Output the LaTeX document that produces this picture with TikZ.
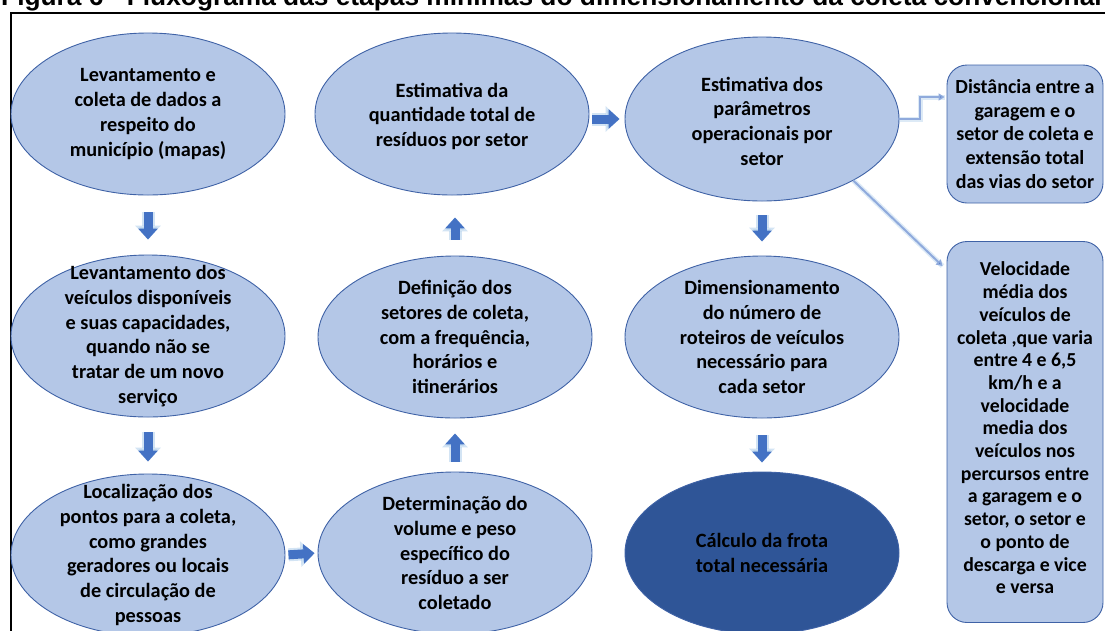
\documentclass[tikz,border=0pt]{standalone}
\usepackage{fontspec}
\setmainfont{Carlito}
\newfontfamily\titlefont{Liberation Sans}
\usetikzlibrary{shapes.geometric,arrows.meta,calc}
\definecolor{fillL}{HTML}{B4C7E7}
\definecolor{edgeC}{HTML}{3F62A6}
\definecolor{fillD}{HTML}{2F5597}
\definecolor{arrC}{HTML}{4472C4}
\definecolor{glowC}{HTML}{9DC3E6}
\definecolor{thinC}{HTML}{8FAADC}
\begin{document}
\begin{tikzpicture}[x=1pt,y=-1pt,
  font=\fontsize{20.3}{24.8}\selectfont\bfseries,
  ell/.style={ellipse, draw=edgeC, line width=0.9pt, fill=fillL, minimum width=274pt, minimum height=162pt, inner sep=0pt,
    label={[align=center, text=black, inner sep=0pt]center:#1}},
  darkell/.style={ell={#1}, fill=fillD},
  rbox/.style 2 args={rectangle, rounded corners=20pt, draw=edgeC, line width=0.9pt, fill=fillL, inner sep=0pt, minimum width=156pt,
    label={[align=center, text=black, inner sep=0pt, #2]center:#1}},
  blk/.style={draw=arrC, line width=9pt, -{Triangle[width=19pt,length=11pt]},
    preaction={draw=glowC, opacity=0.45, line width=13pt, -{Triangle[width=25pt,length=14pt]}}},
  thinarr/.style={draw=thinC, line width=2pt, -{Triangle[width=7pt,length=6pt,fill=arrC]},
    preaction={draw=glowC, opacity=0.35, line width=5pt, -}}
]
\useasboundingbox (0,0) rectangle (1105,630);
\clip (0,0) rectangle (1105,630);

% title and frame
\node[anchor=base west, inner sep=0pt] (title) at (1,5) {\titlefont\fontsize{26.3}{26.3}\selectfont\bfseries Figura 6 - Fluxograma das etapas mínimas do dimensionamento da coleta convencional};
\draw[line width=2.5pt] (11,650) -- (11,13) -- (1120,13);

% column 1
\node[ell={Levantamento e\\coleta de dados a\\respeito do\\município (mapas)}] (e1) at (148,114) {};
\node[ell={Levantamento dos\\veículos disponíveis\\e suas capacidades,\\quando não se\\tratar de um novo\\serviço}] (e2) at (148,336) {};
\node[ell={Localização dos\\pontos para a coleta,\\como grandes\\geradores ou locais\\de circulação de\\pessoas}] (e3) at (148,555) {};

% column 2
\node[ell={\\[-6pt]Estimativa da\\quantidade total de\\resíduos por setor}] (e4) at (452,114) {};
\node[ell={Definição dos\\setores de coleta,\\com a frequência,\\horários e\\itinerários}] (e5) at (455,337) {};
\node[ell={Determinação do\\volume e peso\\específico do\\resíduo a ser\\coletado}] (e6) at (455,553) {};

% column 3
\node[ell={\\[-6pt]Estimativa dos\\parâmetros\\operacionais por\\setor}, minimum height=164pt] (e7) at (762,119) {};
\node[ell={Dimensionamento\\do número de\\roteiros de veículos\\necessário para\\cada setor}] (e8) at (762,337) {};
\node[darkell={Cálculo da frota\\total necessária}] (e9) at (762,553) {};

% right boxes
\node[rbox={Distância entre a\\garagem e o\\setor de coleta e\\extensão total\\das vias do setor}{font=\fontsize{20}{23.8}\selectfont\bfseries},
  minimum height=138pt] (b1) at (1025,134) {};
\node[rbox={Velocidade\\média dos\\veículos de\\coleta ,que varia\\entre 4 e 6,5\\km/h e a\\velocidade\\media dos\\veículos nos\\percursos entre\\a garagem e o\\setor, o setor e\\o ponto de\\descarga e vice\\e versa}{font=\fontsize{19.8}{22.7}\selectfont\bfseries, yshift=4pt},
  minimum height=381pt] (b2) at (1025,432) {};

% block arrows
\draw[blk, shorten <=17pt, shorten >=15pt] (e1.south) -- (e2.north);
\draw[blk, shorten <=15pt, shorten >=12pt] (e2.south) -- (e3.north);
\draw[blk, shorten <=3pt, shorten >=3pt] (e3.east) -- (e6.west);
\draw[blk, shorten <=10pt, shorten >=15pt] (e6.north) -- (e5.south);
\draw[blk, shorten <=16pt, shorten >=22pt] (e5.north) -- (e5.north |- e4.south);
\draw[blk, shorten <=3pt, shorten >=5pt] (e4.east |- e7.west) -- (e7.west);
\draw[blk, shorten <=14pt, shorten >=14pt] (e7.south) -- (e8.north);
\draw[blk, shorten <=17pt, shorten >=9pt] (e8.south) -- (e9.north);

% thin arrows
\draw[thinarr] (e7.east) -- ++(21,0) |- ([xshift=-2pt,yshift=37pt]b1.west);
\draw[thinarr] (e7.-34) -- ([xshift=-4pt,yshift=-25pt]b2.north west);
\end{tikzpicture}
\end{document}
